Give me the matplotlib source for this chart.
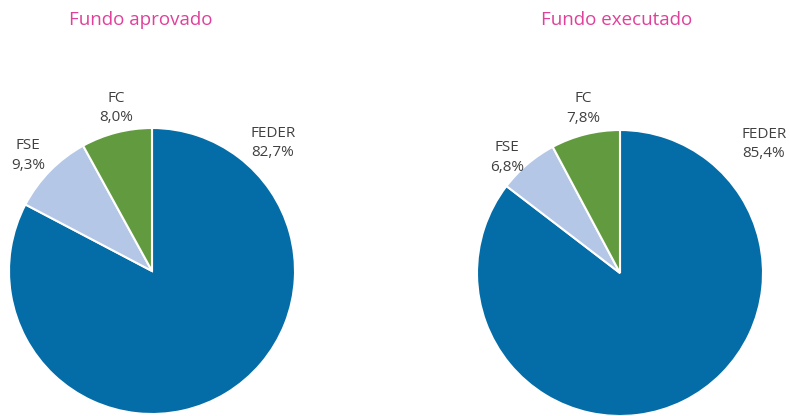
import matplotlib
matplotlib.use("Agg")
import matplotlib.pyplot as plt

categories = ["FEDER", "FSE", "FC"]
approved = [82.7, 9.3, 8.0]
executed = [85.4, 6.8, 7.8]
titles = ["Fundo aprovado", "Fundo executado"]

colors = ["#046ca7", "#b4c7e7", "#629b3f"]
title_color = "#e0409a"
text_color = "#404040"

plt.rcParams['font.family'] = ['Open Sans', 'DejaVu Sans']

W, H = 790, 416
fig = plt.figure(figsize=(W / 100, H / 100), dpi=100)

def px_axes(cx, cy, r):
    return fig.add_axes([(cx - r) / W, (H - cy - r) / H, 2 * r / W, 2 * r / H])

specs = [
    (approved, (152, 271), 143, (141, 20),
     [(0.846, 0.895), (-0.867, 0.811), (-0.25, 1.14)]),
    (executed, (620, 273), 143, (617, 20),
     [(1.007, 0.902), (-0.79, 0.81), (-0.26, 1.15)]),
]

for (vals, (cx, cy), r, (tx, ty), lpos), title in zip(specs, titles):
    ax = px_axes(cx, cy, r)
    ax.pie(vals, colors=colors, startangle=90, counterclock=False,
           radius=1, wedgeprops=dict(edgecolor="white", linewidth=1.5))
    ax.set_xlim(-1, 1)
    ax.set_ylim(-1, 1)
    ax.set_aspect("equal")
    ax.axis("off")
    for cat, v, (lx, ly) in zip(categories, vals, lpos):
        ax.text(lx, ly, f"{cat}\n{v:.1f}%".replace(".", ","), ha="center",
                va="center", fontsize=11, color=text_color,
                linespacing=1.45, clip_on=False)
    fig.text(tx / W, 1 - ty / H, title, ha="center", va="center",
             fontsize=13.5, color=title_color)

fig.savefig("out.png", dpi=100)
